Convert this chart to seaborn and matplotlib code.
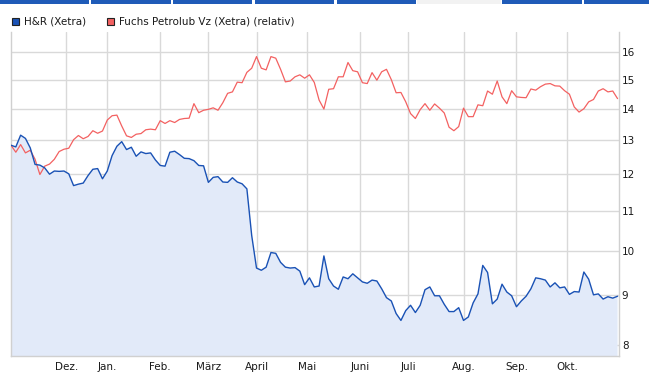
import numpy as np
import pandas as pd
import matplotlib
matplotlib.use("Agg")
import matplotlib.pyplot as plt
import seaborn as sns
from matplotlib.patches import Rectangle
from matplotlib.ticker import NullLocator, FixedFormatter

# ---- data (every second Xetra trading day, 31.10.2012 - 30.10.2013) ----
hr_values = [
    12.84, 12.79, 13.15, 13.05, 12.76, 12.27, 12.25, 12.17, 11.99, 12.08,
    12.07, 12.08, 12.00, 11.67, 11.71, 11.74, 11.95, 12.13, 12.15, 11.86,
    12.08, 12.53, 12.81, 12.95, 12.71, 12.78, 12.51, 12.64, 12.59, 12.61,
    12.40, 12.24, 12.22, 12.63, 12.66, 12.56, 12.45, 12.44, 12.38, 12.24,
    12.23, 11.76, 11.90, 11.92, 11.77, 11.76, 11.89, 11.77, 11.72, 11.58,
    10.37, 9.60, 9.55, 9.62, 9.96, 9.94, 9.73, 9.62, 9.60, 9.61,
    9.53, 9.23, 9.38, 9.18, 9.20, 9.88, 9.36, 9.20, 9.13, 9.40,
    9.36, 9.47, 9.38, 9.29, 9.26, 9.33, 9.31, 9.14, 8.95, 8.88,
    8.62, 8.48, 8.68, 8.79, 8.64, 8.79, 9.12, 9.18, 8.99, 8.99,
    8.81, 8.66, 8.66, 8.74, 8.48, 8.55, 8.84, 9.03, 9.66, 9.50,
    8.82, 8.92, 9.24, 9.07, 8.99, 8.76, 8.88, 8.98, 9.14, 9.38,
    9.36, 9.33, 9.18, 9.27, 9.16, 9.18, 9.02, 9.08, 9.07, 9.51,
    9.35, 9.01, 9.03, 8.92, 8.97, 8.94, 8.98,
]
fuchs_values = [
    12.84, 12.63, 12.86, 12.61, 12.69, 12.42, 11.98, 12.22, 12.28, 12.42,
    12.65, 12.72, 12.75, 13.01, 13.14, 13.04, 13.11, 13.29, 13.21, 13.28,
    13.63, 13.77, 13.79, 13.44, 13.13, 13.08, 13.18, 13.20, 13.32, 13.34,
    13.32, 13.61, 13.52, 13.61, 13.55, 13.65, 13.68, 13.69, 14.17, 13.87,
    13.95, 13.98, 14.03, 13.95, 14.20, 14.52, 14.57, 14.91, 14.89, 15.26,
    15.41, 15.84, 15.41, 15.35, 15.84, 15.78, 15.37, 14.92, 14.95, 15.10,
    15.17, 15.05, 15.17, 14.90, 14.29, 13.99, 14.66, 14.68, 15.10, 15.10,
    15.62, 15.32, 15.28, 14.89, 14.86, 15.25, 14.98, 15.28, 15.37, 15.00,
    14.54, 14.55, 14.23, 13.84, 13.68, 13.97, 14.17, 13.95, 14.16, 14.02,
    13.86, 13.40, 13.29, 13.42, 14.02, 13.74, 13.74, 14.13, 14.10, 14.60,
    14.49, 14.95, 14.40, 14.17, 14.61, 14.40, 14.38, 14.37, 14.67, 14.63,
    14.75, 14.84, 14.86, 14.78, 14.77, 14.61, 14.49, 14.06, 13.89, 14.00,
    14.23, 14.31, 14.60, 14.68, 14.57, 14.60, 14.34,
]
month_labels = ["Dez.", "Jan.", "Feb.", "März", "April", "Mai", "Juni",
                "Juli", "Aug.", "Sep.", "Okt."]
y_ticks = [8, 9, 10, 11, 12, 13, 14, 15, 16]
xetra_holidays = ["2012-12-24", "2012-12-25", "2012-12-26", "2012-12-31",
                  "2013-01-01", "2013-03-29", "2013-04-01", "2013-05-01"]
series_names = ["H&R (Xetra)", "Fuchs Petrolub Vz (Xetra) (relativ)"]

# ---- build table ----
trading_days = pd.bdate_range("2012-10-31", "2013-10-31", freq="C",
                              holidays=xetra_holidays)
day_index = np.arange(len(trading_days))
n = len(hr_values)
df = pd.DataFrame({
    "t": day_index[::2][:n],
    "date": trading_days[::2][:n],
    "hr": hr_values,
    "fuchs": fuchs_values,
})
month_pos = [i for i in range(1, len(trading_days))
             if trading_days[i].month != trading_days[i - 1].month
             and trading_days[i] >= pd.Timestamp("2012-12-01")]

# ---- style ----
sns.set_style("white")
plt.rcParams["font.family"] = ["DejaVu Sans"]
BLUE = "#1a52b5"
FILL = "#e2eaf9"
RED = "#f36161"
GRID = "#d9d9d9"
TXT = "#1a1a1a"

W, H = 649, 373
fig = plt.figure(figsize=(W / 100, H / 100), dpi=100)
fig.patch.set_facecolor("white")
ax = fig.add_axes([11 / W, 17 / H, 608 / W, 324 / H])

ax.fill_between(df["t"], df["hr"], 1, color=FILL, lw=0, zorder=1)
sns.lineplot(data=df, x="t", y="fuchs", color=RED, lw=0.9, ax=ax, zorder=3)
sns.lineplot(data=df, x="t", y="hr", color=BLUE, lw=1.0, ax=ax, zorder=4)

ax.set_yscale("log")
ax.set_ylim(7.795, 16.79)
ax.set_xlim(0, df["t"].iloc[-1] + 0.6)
ax.yaxis.tick_right()
ax.set_yticks(y_ticks)
ax.yaxis.set_major_formatter(FixedFormatter([str(v) for v in y_ticks]))
ax.yaxis.set_minor_locator(NullLocator())
ax.set_xticks(month_pos)
ax.set_xticklabels(month_labels)
ax.set_xlabel("")
ax.set_ylabel("")
ax.tick_params(axis="both", length=0, labelsize=7.5, colors=TXT)
ax.tick_params(axis="x", pad=4)
ax.tick_params(axis="y", pad=2)
for lab in ax.get_yticklabels():
    lab.set_horizontalalignment("left")
ax.grid(True, color=GRID, lw=1.0, zorder=0)
ax.set_axisbelow(True)
for side in ["left", "right", "bottom"]:
    ax.spines[side].set_color("#d0d0d0")
    ax.spines[side].set_linewidth(1.0)
ax.spines["top"].set_visible(False)

# ---- top tabs ----
tabs = [(0, 89), (91, 171), (173, 252), (255, 334), (337, 416),
        (502, 582), (584, 649)]
for x0, x1 in tabs:
    fig.patches.append(Rectangle((x0 / W, 1 - 4 / H), (x1 - x0) / W, 4 / H,
                                 transform=fig.transFigure, color="#1f5bb8",
                                 lw=0))
fig.patches.append(Rectangle((417 / W, 1 - 4 / H), 84 / W, 4 / H,
                             transform=fig.transFigure, color="#f2f2f2", lw=0))

# ---- legend ----
for (x, col, name) in [(12, BLUE, series_names[0]), (107, RED, series_names[1])]:
    fig.patches.append(Rectangle((x / W, 1 - 25 / H), 7 / W, 7 / H,
                                 transform=fig.transFigure, facecolor=col,
                                 edgecolor="#222222", lw=0.8))
    fig.text((x + 12) / W, 1 - 21 / H, name, fontsize=7.5, color=TXT,
             va="center", ha="left")

fig.savefig("out.png", dpi=100)
